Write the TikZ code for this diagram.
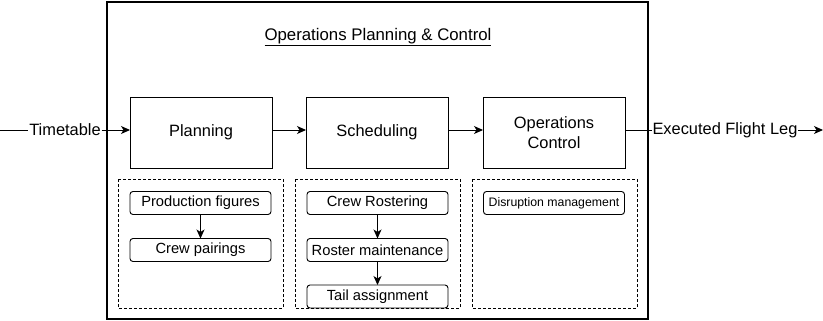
\documentclass[tikz,border=0pt]{standalone}
\usepackage{fontspec}
\setmainfont{Liberation Sans}
\usetikzlibrary{arrows.meta}
\begin{document}
\begin{tikzpicture}[x=1pt,y=-1pt,
  every node/.style={inner sep=0pt, outer sep=0pt},
  stage/.style={draw, line width=0.9pt, minimum width=142pt, minimum height=71pt,
    font=\fontsize{16.4}{20}\selectfont, align=center},
  group/.style={draw, dashed, line width=0.8pt, dash pattern=on 3pt off 2pt},
  task/.style={draw, rounded corners=3pt, line width=0.9pt, minimum width=141pt,
    minimum height=23pt, font=\fontsize{14.7}{16}\selectfont},
  lbl/.style={fill=white, font=\fontsize{16.4}{18}\selectfont, inner sep=1pt},
  flow/.style={line width=0.9pt, -{Stealth[length=9pt,width=8pt,inset=2.5pt]}},
  plain/.style={line width=0.9pt}]
\useasboundingbox (0,0) rectangle (823,321);

% enclosing frame and its heading
\draw[line width=1.3pt] (107,2) rectangle (648,319);
\node[font=\fontsize{16.8}{18}\selectfont] (title) at (378,37)
  {\underline{Operations Planning \& Control}};

% dashed groups below each stage
\draw[group] (118,179) rectangle (283,308);
\draw[group] (295,179) rectangle (460,308);
\draw[group] (472,179) rectangle (637,308);

% main stages
\node[stage] (plan) at (201,132.5) {Planning};
\node[stage] (sched) at (377,132.5) {Scheduling};
\node[stage] (ops) at (554,132.5) {Operations\\Control};

% input and output
\coordinate (in) at (0,130);
\coordinate (out) at (823,130);
\node[lbl] (tt) at (65,130) {Timetable};
\node[lbl] (efl) at (725,130) {Executed Flight Leg};

\draw[plain] (in) -- (tt.west);
\draw[flow] (tt.east) -- (plan.west |- tt.east);
\draw[flow] (plan.east |- 0,130) -- (sched.west |- 0,130);
\draw[flow] (sched.east |- 0,130) -- (ops.west |- 0,130);
\draw[plain] (ops.east |- 0,130) -- (efl.west);
\draw[flow] (efl.east) -- (out);

% planning tasks
\node[task] (prod) at (200.5,203) {Production figures};
\node[task] (pair) at (200.5,250) {Crew pairings};
\draw[flow] (prod) -- (pair);

% scheduling tasks
\node[task] (rost) at (377.5,203) {Crew Rostering};
\node[task] (maint) at (377.5,250) {Roster maintenance};
\node[task] (tail) at (377.5,296.5) {Tail assignment};
\draw[flow] (rost) -- (maint);
\draw[flow] (maint) -- (tail);

% operations control task
\node[task, font=\fontsize{12.3}{14}\selectfont] (disr) at (554,203) {Disruption management};
\end{tikzpicture}
\end{document}
